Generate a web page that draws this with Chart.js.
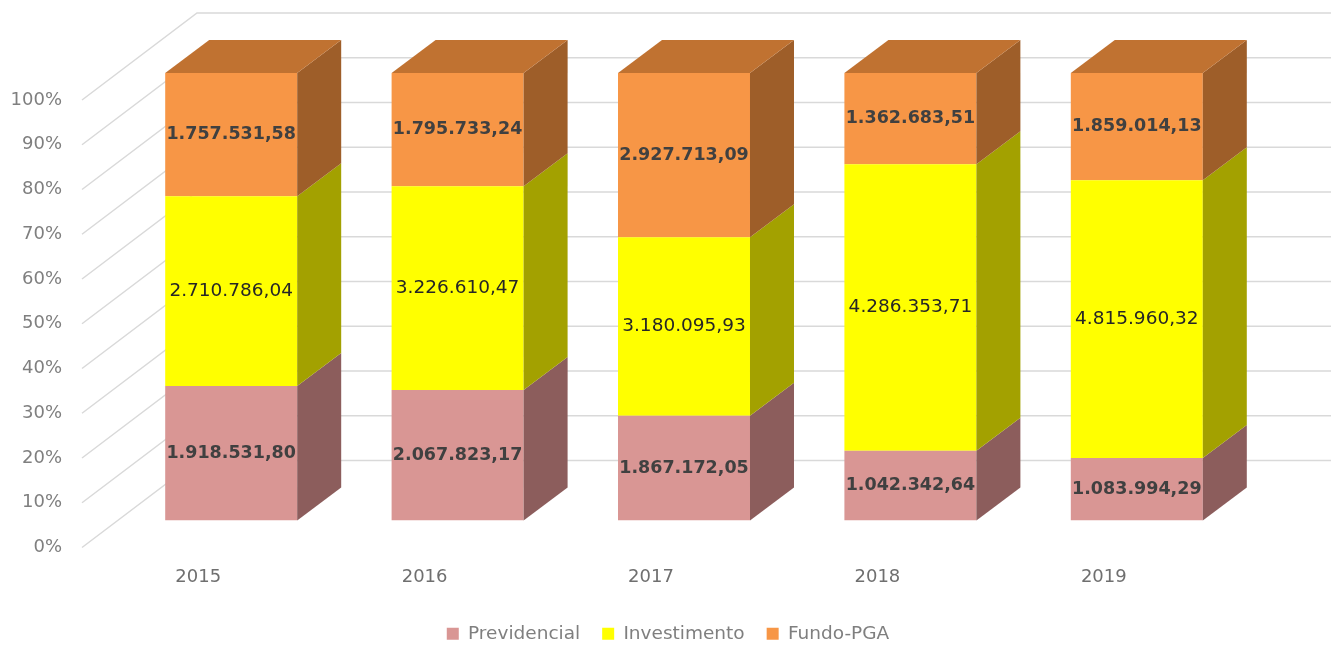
<!DOCTYPE html>
<html>
<head>
<meta charset="utf-8">
<script src="https://cdn.jsdelivr.net/npm/chart.js@4.4.1/dist/chart.umd.min.js"></script>
<style>
  html, body { margin: 0; padding: 0; background: #fff; }
  #wrap { width: 1335px; height: 645px; }
</style>
</head>
<body>
<div id="wrap"><canvas id="chart"></canvas></div>
<script>
const years = ['2015', '2016', '2017', '2018', '2019'];
const previdencial = [1918531.80, 2067823.17, 1867172.05, 1042342.64, 1083994.29];
const investimento = [2710786.04, 3226610.47, 3180095.93, 4286353.71, 4815960.32];
const fundoPGA = [1757531.58, 1795733.24, 2927713.09, 1362683.51, 1859014.13];

// front / side / top shades for each series
const frontColors = ['#d99694', '#ffff00', '#f79646'];
const sideColors = ['#8c5d5c', '#a3a100', '#9e5e29'];
const topColors = ['#c07231', '#c07231', '#c07231'];

const FONT = 'DejaVu Sans';
const DX = 44, DY = 33;

const totals = years.map((_, i) => previdencial[i] + investimento[i] + fundoPGA[i]);
const toPercent = arr => arr.map((v, i) => v / totals[i] * 100);
const rawSeries = [previdencial, investimento, fundoPGA];

// 1.234.567,89
function formatBR(v) {
    const [int, dec] = v.toFixed(2).split('.');
    return int.replace(/\B(?=(\d{3})+(?!\d))/g, '.') + ',' + dec;
}

// floor + back wall gridlines in oblique projection
const wallGrid = {
    id: 'wallGrid',
    afterLayout(chart) {
        // nudge the legend row a bit to the right
        chart.legend.left += 43;
        chart.legend.right += 43;
    },
    beforeDatasetsDraw(chart) {
        const { ctx, chartArea, scales: { y } } = chart;
        ctx.save();
        ctx.strokeStyle = '#d9d9d9';
        ctx.lineWidth = 1.5;
        y.ticks.forEach(t => {
            const py = y.getPixelForValue(t.value);
            ctx.beginPath();
            ctx.moveTo(chartArea.left - 36, py + 27);
            ctx.lineTo(chartArea.left + 79, py - 60);
            ctx.lineTo(chart.width - 4, py - 60);
            ctx.stroke();
        });
        ctx.restore();
    }
};

// side and top faces of the columns, then the value labels
const blocks3d = {
    id: 'blocks3d',
    afterDatasetsDraw(chart) {
        const { ctx } = chart;
        const last = chart.data.datasets.length - 1;
        ctx.save();
        chart.data.datasets.forEach((ds, di) => {
            const meta = chart.getDatasetMeta(di);
            meta.data.forEach(bar => {
                const { x, y, base, width } = bar.getProps(['x', 'y', 'base', 'width'], true);
                const l = x - width / 2, r = x + width / 2;
                ctx.fillStyle = sideColors[di];
                ctx.beginPath();
                ctx.moveTo(r, y);
                ctx.lineTo(r + DX, y - DY);
                ctx.lineTo(r + DX, base - DY);
                ctx.lineTo(r, base);
                ctx.closePath();
                ctx.fill();
                if (di === last) {
                    ctx.fillStyle = topColors[di];
                    ctx.beginPath();
                    ctx.moveTo(l, y);
                    ctx.lineTo(l + DX, y - DY);
                    ctx.lineTo(r + DX, y - DY);
                    ctx.lineTo(r, y);
                    ctx.closePath();
                    ctx.fill();
                }
            });
        });

        ctx.textAlign = 'center';
        ctx.textBaseline = 'middle';
        chart.data.datasets.forEach((ds, di) => {
            const meta = chart.getDatasetMeta(di);
            const bold = di !== 1;
            ctx.font = (bold ? 'bold 17.5px ' : '18.5px ') + FONT;
            ctx.fillStyle = bold ? '#404040' : '#262626';
            meta.data.forEach((bar, i) => {
                const { x, y, base } = bar.getProps(['x', 'y', 'base'], true);
                ctx.fillText(formatBR(rawSeries[di][i]), x, (y + base) / 2);
            });
        });
        ctx.restore();
    }
};

new Chart(document.getElementById('chart'), {
    type: 'bar',
    data: {
        labels: years,
        datasets: [
            { label: 'Previdencial', data: toPercent(previdencial), backgroundColor: frontColors[0] },
            { label: 'Investimento', data: toPercent(investimento), backgroundColor: frontColors[1] },
            { label: 'Fundo-PGA', data: toPercent(fundoPGA), backgroundColor: frontColors[2] }
        ]
    },
    options: {
        responsive: true,
        maintainAspectRatio: false,
        animation: false,
        datasets: { bar: { categoryPercentage: 1, barPercentage: 0.583 } },
        layout: { padding: { top: 73, right: 85, bottom: -8, left: 0 } },
        plugins: {
            legend: {
                position: 'bottom',
                labels: {
                    boxWidth: 12,
                    boxHeight: 12,
                    padding: 22,
                    color: '#7f7f7f',
                    font: { family: FONT, size: 18.5 }
                }
            },
            tooltip: { enabled: false }
        },
        scales: {
            x: {
                stacked: true,
                grid: { display: false, drawTicks: false },
                border: { display: false },
                ticks: {
                    color: '#6f6f6f',
                    font: { family: FONT, size: 18 },
                    labelOffset: -33,
                    padding: 46
                },
                afterFit: s => { s.height = 82; }
            },
            y: {
                stacked: true,
                min: 0,
                max: 100,
                grid: { display: false, drawTicks: false },
                border: { display: false },
                ticks: {
                    stepSize: 10,
                    color: '#7f7f7f',
                    font: { family: FONT, size: 18 },
                    padding: 56,
                    labelOffset: 27,
                    callback: v => v + '%'
                },
                afterFit: s => { s.width = 118; }
            }
        }
    },
    plugins: [wallGrid, blocks3d]
});
</script>
</body>
</html>
